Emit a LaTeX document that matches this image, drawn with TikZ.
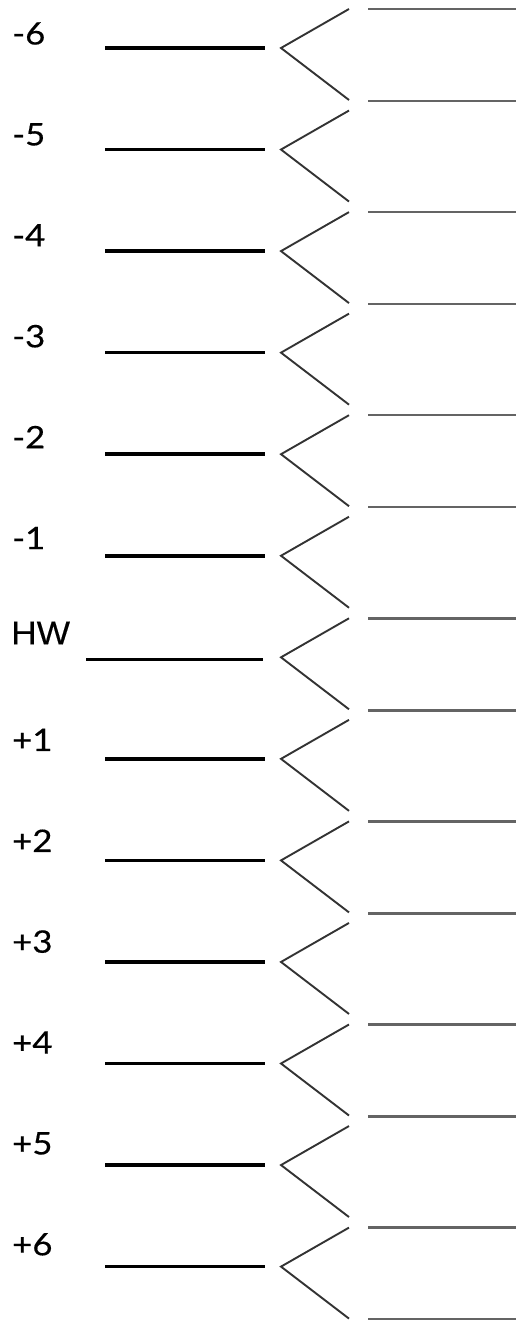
\documentclass[tikz,border=0pt]{standalone}
\usepackage{fontspec}
\setmainfont[FakeBold=0.3]{Liberation Sans}
\newfontfamily\numfont[FakeBold=0.4]{Lato}
\definecolor{chevc}{RGB}{51,51,51}
\definecolor{grayc}{RGB}{100,100,100}
\begin{document}
\begin{tikzpicture}[x=1pt,y=-1pt,
  blackline/.style={line width=3.6pt,black},
  chev/.style={line width=1.9pt,chevc,line join=miter},
  grayline/.style={line width=2.4pt,grayc},
  numlab/.style={anchor=west,inner sep=0pt,xscale=1.12,font=\numfont\fontsize{31}{31}\selectfont},
  hwlab/.style={anchor=west,inner sep=0pt,xscale=1.07,font=\fontsize{33}{33}\selectfont}]
\useasboundingbox (0,0) rectangle (516,1320);
% labels
\foreach \i/\lab in {0/-6,1/-5,2/-4,3/-3,4/-2,5/-1,7/+1,8/+2,9/+3,10/+4,11/+5,12/+6} {
  \pgfmathsetmacro\ty{33.5+100.9*\i}
  \node[numlab] (L\i) at (12,\ty) {\lab};
}
\node[hwlab] (L6) at (11,633) {HW};
% rows
\foreach \i in {0,...,12} {
  \pgfmathsetmacro\ly{48+101.55*\i}
  \coordinate (t\i) at (281,\ly);
  \coordinate (u\i) at (349,\ly-39);
  \coordinate (d\i) at (349,\ly+52);
  \draw[chev] (u\i) -- (t\i) -- (d\i);
}
\foreach \i in {0,1,2,3,4,5,7,8,9,10,11,12} {
  \pgfmathsetmacro\ly{48+101.55*\i}
  \coordinate (bs\i) at (105,\ly);
  \coordinate (be\i) at (265,\ly);
  \draw[blackline] (bs\i) -- (be\i);
}
\coordinate (bs6) at (86,659.5);
\coordinate (be6) at (263,659.5);
\draw[blackline] (bs6) -- (be6);
% gray lines
\foreach \k in {0,...,6} {
  \pgfmathsetmacro\gy{9+203.1*\k}
  \coordinate (gts\k) at (368,\gy);
  \coordinate (gte\k) at (516,\gy);
  \coordinate (gbs\k) at (368,\gy+92);
  \coordinate (gbe\k) at (516,\gy+92);
  \draw[grayline] (gts\k) -- (gte\k);
  \draw[grayline] (gbs\k) -- (gbe\k);
}
\end{tikzpicture}
\end{document}
